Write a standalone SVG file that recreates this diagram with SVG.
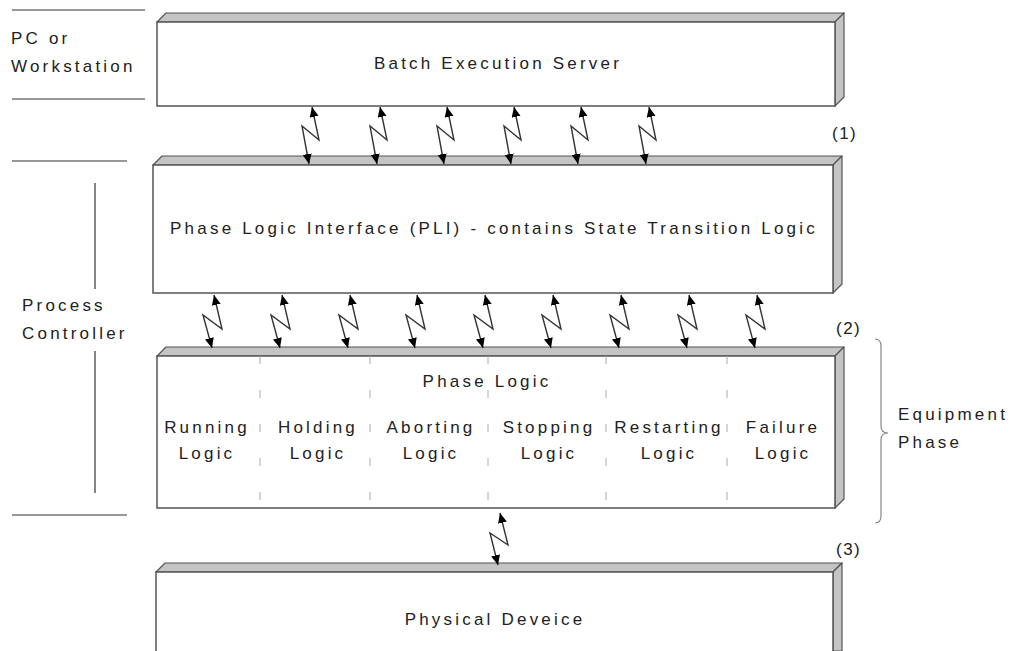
<svg xmlns="http://www.w3.org/2000/svg" width="1017" height="651" viewBox="0 0 1017 651">
<style>
.t{font-family:"Liberation Sans",Arial,sans-serif;font-size:17px;fill:#222;letter-spacing:3.2px}
.m{text-anchor:middle}
.front{fill:#fff;stroke:#555;stroke-width:1.5}
.face{fill:#c4c4c4;stroke:#555;stroke-width:1.2;stroke-linejoin:round}
.rule{stroke:#333;stroke-width:1.2;fill:none}
.sep{stroke:#aaa;stroke-width:1;stroke-dasharray:8 26}
.bolt{fill:none;stroke:#333;stroke-width:1.4;marker-start:url(#ah);marker-end:url(#ah)}
.brace{fill:none;stroke:#888;stroke-width:1.2}
</style>
<defs>
<marker id="ah" markerUnits="userSpaceOnUse" markerWidth="12" markerHeight="10" refX="10" refY="4.5" orient="auto-start-reverse">
<path d="M0,0 L10,4.5 L0,9 z" fill="#000"/>
</marker>
</defs>
<rect width="1017" height="651" fill="#fff"/>
<g id="left-labels">
<line class="rule" x1="12" y1="10" x2="145" y2="10"/>
<line class="rule" x1="12" y1="99" x2="145" y2="99"/>
<line class="rule" x1="12" y1="161" x2="127" y2="161"/>
<line class="rule" x1="12" y1="515" x2="127" y2="515"/>
<line class="rule" x1="95" y1="183" x2="95" y2="289"/>
<line class="rule" x1="95" y1="351" x2="95" y2="493"/>
<text class="t" x="11" y="44">PC or</text>
<text class="t" x="11" y="72">Workstation</text>
<text class="t" x="22" y="311">Process</text>
<text class="t" x="22" y="339">Controller</text>
</g>
<g id="batch-server">
<polygon class="face" points="157,22 166,13 844,13 835,22"/>
<polygon class="face" points="835,22 844,13 844,97 835,106"/>
<rect class="front" x="157" y="22" width="678" height="84"/>
<text class="t m" x="498" y="69">Batch Execution Server</text>
</g>
<g id="pli">
<polygon class="face" points="153,165 162,156 842,156 833,165"/>
<polygon class="face" points="833,165 842,156 842,284 833,293"/>
<rect class="front" x="153" y="165" width="680" height="128"/>
<text class="t m" x="494" y="234">Phase Logic Interface (PLI) - contains State Transition Logic</text>
</g>
<g id="phase-logic">
<polygon class="face" points="157,356 166,347 844,347 835,356"/>
<polygon class="face" points="835,356 844,347 844,499 835,508"/>
<rect class="front" x="157" y="356" width="678" height="152"/>
<line class="sep" x1="260" y1="356" x2="260" y2="507"/>
<line class="sep" x1="370" y1="356" x2="370" y2="507"/>
<line class="sep" x1="488" y1="356" x2="488" y2="507"/>
<line class="sep" x1="606" y1="356" x2="606" y2="507"/>
<line class="sep" x1="727" y1="356" x2="727" y2="507"/>
<text class="t m" x="487" y="387">Phase Logic</text>
<text class="t m" x="207" y="433">Running</text><text class="t m" x="207" y="459">Logic</text>
<text class="t m" x="318" y="433">Holding</text><text class="t m" x="318" y="459">Logic</text>
<text class="t m" x="431" y="433">Aborting</text><text class="t m" x="431" y="459">Logic</text>
<text class="t m" x="549" y="433">Stopping</text><text class="t m" x="549" y="459">Logic</text>
<text class="t m" x="669" y="433">Restarting</text><text class="t m" x="669" y="459">Logic</text>
<text class="t m" x="783" y="433">Failure</text><text class="t m" x="783" y="459">Logic</text>
</g>
<g id="physical-device">
<polygon class="face" points="156,572 165,563 842,563 833,572"/>
<polygon class="face" points="833,572 842,563 842,651 833,651"/>
<rect class="front" x="156" y="572" width="677" height="90"/>
<text class="t m" x="495" y="625">Physical Deveice</text>
</g>
<g id="connectors">
<polyline class="bolt" points="312,107 319,140 302,126 309,164"/>
<polyline class="bolt" points="380,107 387,140 370,126 377,164"/>
<polyline class="bolt" points="447,107 454,140 437,126 444,164"/>
<polyline class="bolt" points="514,107 521,140 504,126 511,164"/>
<polyline class="bolt" points="581,107 588,140 571,126 578,164"/>
<polyline class="bolt" points="649,107 656,140 639,126 646,164"/>
<polyline class="bolt" points="214,295 222,329 203,315 212,348"/>
<polyline class="bolt" points="282,295 290,329 271,315 280,348"/>
<polyline class="bolt" points="350,295 358,329 339,315 348,348"/>
<polyline class="bolt" points="417,295 425,329 406,315 415,348"/>
<polyline class="bolt" points="485,295 493,329 474,315 483,348"/>
<polyline class="bolt" points="553,295 561,329 542,315 551,348"/>
<polyline class="bolt" points="621,295 629,329 610,315 619,348"/>
<polyline class="bolt" points="689,295 697,329 678,315 687,348"/>
<polyline class="bolt" points="757,295 765,329 746,315 755,348"/>
<polyline class="bolt" points="500,513 508,545 490,533 498,565"/>
</g>
<g id="right-labels">
<text class="t" x="832" y="139" style="letter-spacing:1.5px">(1)</text>
<text class="t" x="836" y="334" style="letter-spacing:1.5px">(2)</text>
<text class="t" x="836" y="555" style="letter-spacing:1.5px">(3)</text>
<path class="brace" d="M875,339 Q881,339 881,346 L881,426 Q881,433 888,433 Q881,433 881,440 L881,516 Q881,523 875,523"/>
<text class="t" x="898" y="420">Equipment</text>
<text class="t" x="898" y="448">Phase</text>
</g>
</svg>
